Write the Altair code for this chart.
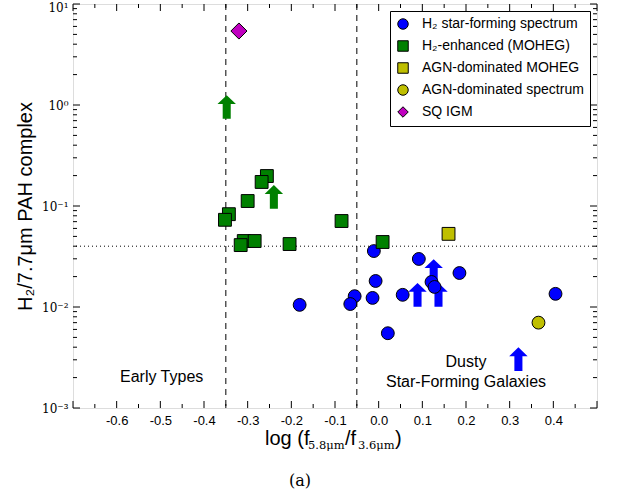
import altair as alt
import pandas as pd

# ---------------- data ----------------
categories = ["H\u2082 star-forming spectrum", "H\u2082-enhanced (MOHEG)",
              "AGN-dominated MOHEG", "AGN-dominated spectrum", "SQ IGM"]
cat_colors = ["#0000ff", "#008000", "#bfbf00", "#bfbf00", "#bf00bf"]
cat_shapes = ["circle", "square", "square", "circle", "diamond"]

sf_x = [-0.181, -0.055, -0.065, -0.011, -0.007, -0.014, 0.021, 0.055, 0.092, 0.121, 0.128, 0.185, 0.405]
sf_y = [0.0105, 0.0128, 0.0107, 0.0358, 0.0181, 0.0123, 0.0055, 0.0132, 0.0299, 0.0177, 0.0158, 0.0217, 0.0135]

moheg_x = [-0.256, -0.268, -0.300, -0.343, -0.352, -0.309, -0.284, -0.316, -0.204, -0.085, 0.009]
moheg_y = [0.198, 0.173, 0.112, 0.083, 0.073, 0.045, 0.045, 0.041, 0.042, 0.071, 0.044]

agn_moheg_x = [0.160]
agn_moheg_y = [0.053]

agn_spec_x = [0.366]
agn_spec_y = [0.0070]

sq_x = [-0.320]
sq_y = [5.4]

# lower limits (arrows)
moheg_lim_x = [-0.348, -0.240]
moheg_lim_y = [0.955, 0.123]
sf_lim_x = [0.089, 0.126, 0.137, 0.320]
sf_lim_y = [0.0132, 0.0227, 0.0132, 0.00305]

vlines = [-0.35, -0.05]
hline = [0.04]

ann_text = ["Early Types", "Dusty", "Star-Forming Galaxies"]
ann_x = [-0.497, 0.200, 0.200]
ann_y = [0.00203, 0.00285, 0.00181]

x_major = [-0.7, -0.6, -0.5, -0.4, -0.3, -0.2, -0.1, 0.0, 0.1, 0.2, 0.3, 0.4, 0.5]
x_label_vals = [-0.6, -0.5, -0.4, -0.3, -0.2, -0.1, 0.0, 0.1, 0.2, 0.3, 0.4]
x_minor = [-0.65, -0.55, -0.45, -0.35, -0.25, -0.15, -0.05, 0.05, 0.15, 0.25, 0.35, 0.45]
y_major = [0.001, 0.01, 0.1, 1, 10]
y_minor = [m * d for d in [0.001, 0.01, 0.1, 1] for m in range(2, 10)]

# ---------------- layout ----------------
W, H = 524, 404
PL, PT = 73, 4

rows = []
for cat, xs, ys in [(categories[0], sf_x, sf_y), (categories[1], moheg_x, moheg_y),
                    (categories[2], agn_moheg_x, agn_moheg_y), (categories[3], agn_spec_x, agn_spec_y),
                    (categories[4], sq_x, sq_y)]:
    for a, b in zip(xs, ys):
        rows.append({"x": a, "y": b, "cat": cat})
pts = pd.DataFrame(rows)

xscale = alt.Scale(domain=[-0.7, 0.5], nice=False, zero=False)
yscale = alt.Scale(type="log", domain=[0.001, 10], nice=False)

xaxis = alt.Axis(values=x_label_vals, ticks=False, domain=False, grid=False,
                 labelExpr="replace(format(datum.value, '.1f'), '\u2212', '-')",
                 labelFont="Liberation Sans", labelFontSize=13, labelColor="black",
                 labelPadding=6, title=None)
yaxis = alt.Axis(values=y_major, ticks=False, domain=False, grid=False,
                 labelExpr="datum.value > 5 ? '10\u00b9' : datum.value > 0.5 ? '10\u2070' : datum.value > 0.05 ? '10\u207b\u00b9' : datum.value > 0.005 ? '10\u207b\u00b2' : '10\u207b\u00b3'",
                 labelFont="DejaVu Serif", labelFontSize=12, labelColor="black",
                 labelPadding=5,
                 labelOffset={"condition": {"test": "datum.value > 5", "value": 3}, "value": 0},
                 title="H\u2082/7.7\u03bcm PAH complex",
                 titleFont="Liberation Sans", titleFontSize=20, titleFontWeight="normal",
                 titleColor="black", titlePadding=6)

X = alt.X("x:Q", scale=xscale, axis=xaxis)
Y = alt.Y("y:Q", scale=yscale, axis=yaxis)

legend = alt.Legend(title=None, orient="none", legendX=317, legendY=7,
                    strokeColor="black", fillColor="white", cornerRadius=0,
                    padding=6, rowPadding=6, labelFont="Liberation Sans",
                    labelFontSize=14, labelColor="black", labelLimit=300, symbolSize=110,
                    symbolStrokeColor="black", symbolStrokeWidth=1, labelOffset=12)

points = alt.Chart(pts).mark_point(filled=True, opacity=1, stroke="black", strokeWidth=1).encode(
    x=X, y=Y,
    color=alt.Color("cat:N", scale=alt.Scale(domain=categories, range=cat_colors), legend=legend),
    shape=alt.Shape("cat:N", scale=alt.Scale(domain=categories, range=cat_shapes), legend=legend),
    size=alt.condition("datum.cat == 'SQ IGM'", alt.value(260), alt.value(165)),
)

arrow_path = "M0,-1L0.78,-0.25L0.34,-0.25L0.34,1L-0.34,1L-0.34,-0.25L-0.78,-0.25Z"
green_arr = alt.Chart(pd.DataFrame({"x": moheg_lim_x, "y": moheg_lim_y})).mark_point(
    shape=arrow_path, filled=True, opacity=1, color="#008000", size=560).encode(x=X, y=Y)
blue_arr = alt.Chart(pd.DataFrame({"x": sf_lim_x, "y": sf_lim_y})).mark_point(
    shape=arrow_path, filled=True, opacity=1, color="#0000ff", size=560).encode(x=X, y=Y)

vrules = alt.Chart(pd.DataFrame({"x": vlines})).mark_rule(
    color="black", strokeDash=[6, 5], strokeWidth=1).encode(x=X)
hrule = alt.Chart(pd.DataFrame({"y": hline})).mark_rule(
    color="black", strokeDash=[1, 3], strokeWidth=1).encode(y=Y)

ann = alt.Chart(pd.DataFrame({"x": ann_x, "y": ann_y, "t": ann_text})).mark_text(
    font="Liberation Sans", fontSize=16, color="black", baseline="middle", align="center").encode(
    x=X, y=Y, text="t:N")

# inward ticks
def yticks(vals, L):
    d = pd.DataFrame({"y": vals})
    left = alt.Chart(d).mark_rule(color="black", strokeWidth=1).encode(
        y=Y, x=alt.value(0), x2=alt.value(L))
    right = alt.Chart(d).mark_rule(color="black", strokeWidth=1).encode(
        y=Y, x=alt.value(W - L), x2=alt.value(W))
    return [left, right]

def xticks(vals, L):
    d = pd.DataFrame({"x": vals})
    bot = alt.Chart(d).mark_rule(color="black", strokeWidth=1).encode(
        x=X, y=alt.value(H - L), y2=alt.value(H))
    top = alt.Chart(d).mark_rule(color="black", strokeWidth=1).encode(
        x=X, y=alt.value(0), y2=alt.value(L))
    return [bot, top]

ticks = yticks(y_major, 7) + yticks(y_minor, 4) + xticks(x_major, 7) + xticks(x_minor, 4)

# x-axis title with subscripts, and caption
xt_main = ["log (f", "/f", ")"]
xt_main_x = [265, 345, 395]
xt_sub = ["5.8\u03bcm", "3.6\u03bcm"]
xt_sub_x = [308, 358]

def txt(s, xpos, ypos, font, size):
    return alt.Chart(pd.DataFrame({"t": [s]})).mark_text(
        font=font, fontSize=size, color="black", align="left", baseline="alphabetic").encode(
        x=alt.value(xpos - PL), y=alt.value(ypos - PT), text="t:N")

title_layers = [txt(s, p, 445, "Liberation Sans", 20) for s, p in zip(xt_main, xt_main_x)]
title_layers += [txt(s, p, 449, "DejaVu Serif", 11.5) for s, p in zip(xt_sub, xt_sub_x)]
caption = alt.Chart(pd.DataFrame({"t": ["(a)"]})).mark_text(
    font="DejaVu Serif", fontSize=16, color="black", align="center", baseline="middle").encode(
    x=alt.value(300 - PL), y=alt.value(481 - PT), text="t:N")

chart = alt.layer(vrules, hrule, *ticks, green_arr, blue_arr, points, ann, *title_layers, caption).properties(
    width=W, height=H,
    autosize=alt.AutoSizeParams(type="none"),
    padding={"left": PL, "top": PT, "right": 623 - PL - W, "bottom": 497 - PT - H},
).configure_view(stroke="black", strokeWidth=1.2).configure(background="white")

chart.save("out.html", embed_options={"renderer": "svg", "actions": False})
